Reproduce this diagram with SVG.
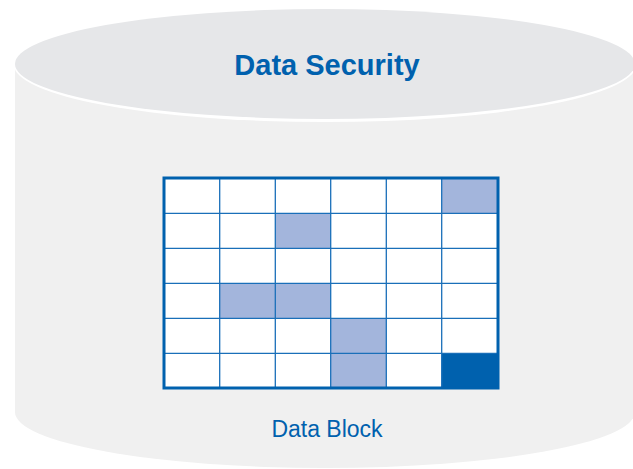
<svg xmlns="http://www.w3.org/2000/svg" width="633" height="469" viewBox="0 0 633 469">
<style>
.cell{fill:#ffffff;stroke:#1a6fb9;stroke-width:1.3}
.hl{fill:#a3b5dc}
.dk{fill:#0061ae}
.t{font-family:"Liberation Sans",Arial,sans-serif;fill:#0061ae;text-anchor:middle}
</style>
<g id="cylinder">
<path d="M15 65 L15 412 A310 56 0 0 0 635 412 L635 65 Z" fill="#f0f0f0"/>
<ellipse cx="325" cy="65" rx="311" ry="57" fill="#ffffff"/>
<ellipse cx="325" cy="64" rx="310" ry="55" fill="#e6e7e9"/>
<text class="t" x="327" y="75" font-size="29" font-weight="bold">Data Security</text>
</g>
<g id="data-block">
<rect x="164" y="178" width="334" height="210" fill="#ffffff"/>
<g class="cells">
<rect class="hl" x="441.7" y="178" width="56.3" height="35.3"/>
<rect class="hl" x="275.3" y="213.3" width="55.4" height="35"/>
<rect class="hl" x="219.7" y="283.3" width="111" height="35"/>
<rect class="hl" x="330.7" y="318.3" width="55.6" height="69.7"/>
<rect class="dk" x="441.7" y="353.3" width="56.3" height="34.7"/>
</g>
<g stroke="#1a6fb9" stroke-width="1.3" fill="none">
<path d="M219.7 178V388M275.3 178V388M330.7 178V388M386.3 178V388M441.7 178V388"/>
<path d="M164 213.3H498M164 248.3H498M164 283.3H498M164 318.3H498M164 353.3H498"/>
</g>
<rect x="164" y="178" width="334" height="210" fill="none" stroke="#0061ae" stroke-width="3"/>
<text class="t" x="327" y="437" font-size="23" fill="#2a6fb2">Data Block</text>
</g>
</svg>
